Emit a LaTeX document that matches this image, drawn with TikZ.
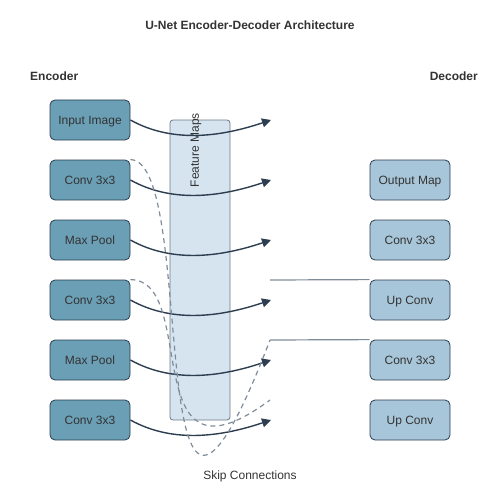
\documentclass[tikz,border=0pt]{standalone}
\usepackage{fontspec}
\setmainfont{Liberation Sans}
\usetikzlibrary{arrows.meta}
\definecolor{encfill}{HTML}{6A9FB5}
\definecolor{decfill}{HTML}{A8C6D9}
\definecolor{boxline}{HTML}{2C3E50}
\definecolor{fmfill}{HTML}{D6E4F0}
\definecolor{fmline}{HTML}{6C7A89}
\definecolor{skipcol}{HTML}{7F8C9A}
\definecolor{txt}{HTML}{333333}
\tikzset{
  encbox/.style={draw=boxline, line width=0.8pt, fill=encfill, rounded corners=5pt,
    minimum width=80pt, minimum height=40pt, inner sep=0pt, text=txt,
    text height=10.5pt, text depth=1pt, font=\fontsize{12}{14}\selectfont},
  decbox/.style={encbox, fill=decfill},
  flow/.style={draw=boxline, line width=1.4pt, -{Triangle[length=9pt,width=9pt]}},
  skip/.style={draw=skipcol, line width=1.2pt, dash pattern=on 5pt off 4pt},
  skipline/.style={draw=skipcol, line width=1.2pt},
  lbl/.style={text=txt, inner sep=0pt},
}
\begin{document}
\begin{tikzpicture}[x=1pt, y=-1pt]
\useasboundingbox (0,0) rectangle (500,500);
% feature maps band
\node[draw=fmline, line width=0.8pt, fill=fmfill, rounded corners=3pt, minimum width=60pt,
  minimum height=300pt, inner sep=0pt] (fm) at (200,270) {};
\node[lbl, rotate=90, font=\fontsize{12}{14}\selectfont] (fmlabel) at (196,150) {Feature Maps};
% titles
\node[lbl, font=\bfseries\fontsize{12}{14}\selectfont] (title) at (250,25) {U-Net Encoder-Decoder Architecture};
\node[lbl, font=\bfseries\fontsize{12}{14}\selectfont, anchor=west] (enc) at (30,76) {Encoder};
\node[lbl, font=\bfseries\fontsize{12}{14}\selectfont, anchor=east] (dec) at (478,76) {Decoder};
\node[lbl, font=\fontsize{12}{14}\selectfont] (skiplabel) at (250,476) {Skip Connections};
% encoder
\node[encbox] (e1) at (90,120) {Input Image};
\node[encbox] (e2) at (90,180) {Conv 3x3};
\node[encbox] (e3) at (90,240) {Max Pool};
\node[encbox] (e4) at (90,300) {Conv 3x3};
\node[encbox] (e5) at (90,360) {Max Pool};
\node[encbox] (e6) at (90,420) {Conv 3x3};
% decoder
\node[decbox] (d1) at (410,180) {Output Map};
\node[decbox] (d2) at (410,240) {Conv 3x3};
\node[decbox] (d3) at (410,300) {Up Conv};
\node[decbox] (d4) at (410,360) {Conv 3x3};
\node[decbox] (d5) at (410,420) {Up Conv};
% arrow targets
\foreach \i/\y in {1/120,2/180,3/240,4/300,5/360,6/420}{
  \coordinate (t\i) at (271,\y);
}
\foreach \i in {1,...,6}{
  \draw[flow] (e\i.east) .. controls +(45,25) and +(-45,15) .. (t\i);
}
% skip connections
\coordinate (s1) at (270,340);
\coordinate (s2) at (270,400);
\coordinate (s3) at (270,280);
\draw[skip] (e2.north east) .. controls (200,160) and (140,680) .. (s1);
\draw[skip] (e4.north east) .. controls (200,280) and (135,500) .. (s2);
\draw[skipline] (s3) -- (d3.north west);
\draw[skipline] (s1) -- (d4.north west);
\end{tikzpicture}
\end{document}
